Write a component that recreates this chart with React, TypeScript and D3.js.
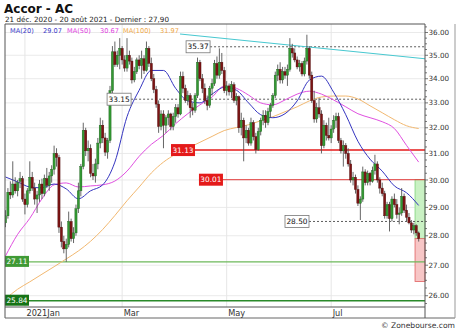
import React from 'react';
import * as d3 from 'd3';

const opens = [
  28.45, 28.70, 29.55, 29.45, 29.85, 29.60, 29.95, 30.05, 29.30, 29.10,
  29.60, 30.10, 29.70, 29.30, 29.45, 29.85, 29.50, 30.05, 29.80, 30.15,
  30.40, 31.00, 30.85, 28.30, 27.80, 27.55, 27.70, 28.50, 27.90, 28.10,
  28.95, 29.60, 30.50, 31.90, 31.10, 31.20, 30.25, 30.15, 30.60, 31.40,
  32.10, 31.60, 31.05, 31.50, 33.50, 35.15, 34.60, 35.00, 35.30, 34.80,
  34.45, 35.00, 34.75, 33.95, 34.30, 34.80, 34.55, 34.85, 34.35, 35.30,
  34.65, 34.00, 33.55, 32.95, 32.05, 32.55, 32.10, 32.40, 32.55, 32.05,
  32.45, 32.80, 32.55, 34.10, 33.60, 33.10, 33.30, 32.80, 32.70, 33.30,
  34.70, 34.00, 33.60, 33.10, 32.90, 33.60, 33.80, 34.65, 34.15, 34.70,
  34.35, 33.50, 33.70, 33.45, 33.75, 33.10, 33.25, 32.00, 32.30, 31.60,
  31.90, 31.40, 32.20, 31.65, 31.15, 31.85, 32.30, 32.50, 32.20, 32.65,
  32.90, 33.30, 34.15, 34.40, 33.95, 34.30, 34.15, 34.40, 35.30, 35.10,
  34.80, 34.50, 34.65, 34.20, 34.75, 35.30, 34.15, 33.10, 32.35, 32.80,
  32.55, 31.30, 32.10, 31.70, 31.60, 31.95, 32.30, 32.45, 31.50, 31.10,
  31.30, 31.00, 30.60, 30.00, 30.10, 29.65, 29.15, 29.30, 30.30, 29.90,
  30.25, 29.95, 30.35, 30.60, 30.00, 29.70, 29.50, 28.70, 29.10, 28.60,
  29.30, 29.10, 28.75, 28.80, 29.40, 28.90, 28.65, 28.45, 28.20, 28.35,
  28.10,
];
const highs = [
  28.90, 29.70, 29.95, 30.70, 30.10, 30.00, 30.30, 30.15, 29.50, 29.70,
  30.70, 30.30, 29.90, 29.60, 30.00, 30.05, 30.20, 30.45, 30.30, 30.55,
  31.30, 31.20, 30.95, 28.50, 28.00, 27.90, 28.85, 28.60, 28.30, 29.10,
  29.90, 30.60, 32.20, 32.00, 31.50, 31.35, 30.60, 30.80, 31.60, 32.40,
  32.30, 31.80, 31.60, 33.70, 35.40, 35.60, 35.20, 35.75, 35.40, 35.00,
  35.75, 35.20, 34.90, 34.50, 34.90, 35.00, 35.20, 35.00, 35.60, 35.40,
  34.90, 34.20, 33.70, 33.10, 32.70, 32.70, 32.50, 32.70, 32.60, 32.60,
  32.95, 32.95, 34.30, 34.30, 33.75, 33.50, 33.40, 33.00, 33.40, 34.90,
  34.80, 34.20, 33.80, 33.30, 33.70, 34.00, 34.80, 34.95, 35.30, 35.10,
  34.50, 33.90, 33.80, 33.90, 33.85, 33.40, 33.30, 32.60, 32.40, 32.10,
  32.00, 32.40, 32.30, 31.80, 32.00, 32.40, 32.70, 32.70, 32.80, 33.00,
  33.40, 34.30, 34.60, 34.70, 34.50, 34.50, 34.60, 35.75, 35.50, 35.30,
  34.95, 34.80, 34.75, 34.90, 35.90, 35.40, 34.30, 33.50, 33.00, 33.20,
  32.70, 32.30, 32.20, 32.40, 32.10, 32.50, 32.60, 32.60, 31.60, 31.50,
  31.40, 31.20, 30.75, 30.30, 30.20, 29.80, 29.40, 30.50, 30.40, 30.35,
  30.30, 30.50, 30.95, 30.70, 30.10, 29.90, 29.60, 29.20, 29.20, 29.40,
  29.50, 29.30, 29.00, 29.70, 29.50, 29.10, 28.80, 28.55, 28.45, 28.40,
  28.15,
];
const lows = [
  28.30, 28.60, 29.30, 29.35, 29.50, 29.40, 29.70, 29.20, 28.75, 29.00,
  29.50, 29.60, 29.10, 28.80, 29.20, 29.30, 29.40, 29.70, 29.60, 29.90,
  30.20, 30.50, 28.10, 27.60, 27.40, 27.11, 27.60, 27.80, 27.75, 28.00,
  28.80, 29.40, 30.40, 30.90, 30.70, 30.10, 30.00, 29.90, 30.40, 31.20,
  31.40, 30.90, 30.80, 31.40, 33.40, 34.50, 34.50, 34.40, 34.60, 34.30,
  34.30, 34.60, 33.80, 33.85, 34.20, 34.40, 34.00, 34.20, 34.30, 34.50,
  33.90, 33.40, 32.80, 31.80, 31.90, 31.20, 31.80, 32.10, 31.90, 31.90,
  32.20, 32.40, 32.50, 33.40, 33.00, 32.90, 32.40, 32.50, 32.60, 33.20,
  33.90, 33.40, 32.95, 32.70, 32.80, 33.30, 33.70, 34.00, 34.00, 34.20,
  33.40, 33.30, 33.30, 33.20, 33.00, 32.90, 31.80, 31.70, 30.70, 31.40,
  31.30, 31.30, 31.50, 31.00, 31.10, 31.70, 32.10, 32.00, 32.10, 32.40,
  32.80, 33.20, 33.90, 33.80, 33.80, 34.00, 33.70, 34.30, 34.90, 34.70,
  34.40, 34.30, 34.10, 34.10, 34.60, 34.00, 33.00, 32.20, 32.20, 32.40,
  31.00, 31.20, 31.50, 31.50, 31.40, 31.80, 32.00, 31.40, 31.00, 30.50,
  30.80, 30.50, 29.90, 29.80, 29.50, 29.05, 28.55, 29.20, 29.80, 29.80,
  29.80, 29.90, 30.20, 29.90, 29.50, 29.40, 28.60, 28.60, 28.15, 28.50,
  29.00, 28.60, 28.40, 28.70, 28.80, 28.50, 28.40, 28.10, 28.05, 28.00,
  27.80,
];
const closes = [
  28.70, 29.55, 29.45, 29.85, 29.60, 29.90, 30.05, 29.30, 29.10, 29.60,
  30.10, 29.70, 29.30, 29.45, 29.85, 29.50, 30.05, 29.80, 30.15, 30.40,
  31.00, 30.85, 28.30, 27.80, 27.55, 27.70, 28.50, 27.90, 28.10, 28.95,
  29.60, 30.50, 31.90, 31.10, 31.20, 30.25, 30.15, 30.60, 31.40, 32.10,
  31.60, 31.05, 31.50, 33.50, 35.15, 34.60, 35.00, 35.30, 34.80, 34.45,
  35.00, 34.75, 33.95, 34.30, 34.80, 34.55, 34.85, 34.35, 35.30, 34.65,
  34.00, 33.55, 32.95, 32.05, 32.55, 32.10, 32.40, 32.55, 32.05, 32.45,
  32.80, 32.55, 34.10, 33.60, 33.10, 33.30, 32.80, 32.70, 33.30, 34.70,
  34.00, 33.60, 33.10, 32.90, 33.60, 33.80, 34.65, 34.15, 34.70, 34.35,
  33.50, 33.70, 33.45, 33.75, 33.10, 33.25, 32.00, 32.30, 31.60, 31.90,
  31.40, 32.20, 31.65, 31.15, 31.85, 32.30, 32.50, 32.20, 32.65, 32.90,
  33.30, 34.15, 34.40, 33.95, 34.30, 34.15, 34.40, 35.30, 35.10, 34.80,
  34.50, 34.65, 34.20, 34.75, 35.30, 34.15, 33.10, 32.35, 32.80, 32.55,
  31.30, 32.10, 31.70, 31.60, 31.95, 32.30, 32.45, 31.50, 31.10, 31.30,
  31.00, 30.60, 30.00, 30.10, 29.65, 29.15, 29.30, 30.30, 29.90, 30.25,
  29.95, 30.35, 30.60, 30.00, 29.70, 29.50, 28.70, 29.10, 28.60, 29.30,
  29.10, 28.75, 28.80, 29.40, 28.90, 28.65, 28.45, 28.20, 28.35, 28.10,
  27.90,
];

// Moving averages read every 5 sessions (index 0, 5, ..., 170)
const maStep = 5;
const ma20 = [30.11, 29.93, 29.74, 29.71, 29.85, 29.67, 29.31, 29.60, 29.82, 30.67,
  32.44, 33.52, 34.35, 34.35, 33.60, 33.08, 33.00, 33.36, 33.64, 33.52,
  33.00, 32.52, 32.40, 32.56, 33.08, 33.94, 34.11, 33.44, 32.52, 31.47,
  30.78, 30.33, 29.78, 29.53, 29.07];
const ma50 = [27.31, 28.05, 28.61, 29.31, 29.82, 29.89, 29.74, 29.78, 29.82, 29.96,
  30.33, 30.89, 31.35, 31.70, 32.16, 32.56, 32.92, 33.24, 33.69, 33.60,
  33.32, 33.00, 32.92, 33.12, 33.36, 33.48, 33.36, 33.12, 32.84, 32.56,
  32.40, 32.24, 31.97, 31.31, 30.67];
const ma100 = [25.90, 26.21, 26.45, 26.70, 26.95, 27.21, 27.48, 27.81, 28.22, 28.71,
  29.24, 29.74, 30.26, 30.67, 30.97, 31.20, 31.43, 31.66, 31.89, 32.01,
  32.12, 32.28, 32.44, 32.64, 32.84, 33.08, 33.24, 33.28, 33.28, 33.16,
  32.88, 32.60, 32.32, 32.08, 31.97];

const maLegend = [
  { label: 'MA(20)', value: '29.07', color: '#3a3ac8' },
  { label: 'MA(50)', value: '30.67', color: '#e040e0' },
  { label: 'MA(100)', value: '31.97', color: '#f0a848' },
];

const yTicks = [26, 27, 28, 29, 30, 31, 32, 33, 34, 35, 36];
const yMinorTicks = [25.75, 26.25, 26.5, 26.75, 27.25, 27.5, 27.75, 28.25, 28.5, 28.75, 29.25, 29.5, 29.75,
  30.25, 30.5, 30.75, 31.25, 31.5, 31.75, 32.25, 32.5, 32.75, 33.25, 33.5, 33.75, 34.25, 34.5, 34.75,
  35.25, 35.5, 35.75, 36.25];
const monthTicks = [
  { i: 8, label: '2021Jan' },
  { i: 48, label: 'Mar' },
  { i: 91, label: 'May' },
  { i: 134, label: 'Jul' },
];

// horizontal levels: value, index where its label starts
const dottedLevels = [
  { v: 35.37, i: 74.3 },
  { v: 33.15, i: 41.8 },
  { v: 28.5, i: 115.0 },
];
const redLevels = [
  { v: 31.13, i: 68.1, w: 1.6, color: '#e41a1a' },
  { v: 30.01, i: 79.6, w: 1, color: '#e23a3a' },
];
const greenLevels = [
  { v: 27.11, color: '#6cb85a', box: '#3f9a35', w: 1.3 },
  { v: 25.84, color: '#2a8a2a', box: '#167316', w: 1.6 },
];
const trendline = [
  { i: 71.8, v: 35.93 },
  { i: 172.6, v: 34.85 },
];
const upZone = { from: 27.9, to: 30.01, i: 168.5 };
const downZone = { from: 27.9, to: 26.46, i: 168.5 };

const SANS = '"DejaVu Sans", Verdana, sans-serif';

export default function App() {
  const W = 460, H = 331;
  const plotL = 5, plotR = 425, plotT = 24, plotB = 307, bandB = 318, outerR = 455;
  const x = d3.scaleLinear().domain([-0.2, 172.6]).range([plotL, plotR]);
  const y = d3.scaleLog().domain([25.64, 36.38]).range([plotB, plotT]);

  const maLine = (arr: number[]) =>
    d3.line<number>()
      .x((_, k) => x(k * maStep))
      .y((v) => y(v))
      .curve(d3.curveMonotoneX)(arr) || '';

  const fmt = d3.format('.2f');
  const bodyW = 2.2;

  return (
    <svg width={W} height={H} style={{ position: 'absolute', left: 0, top: 0, background: '#fff' }}
      fontFamily={SANS}>
      <defs>
        <clipPath id="plot">
          <rect x={plotL} y={plotT} width={plotR - plotL} height={plotB - plotT} />
        </clipPath>
      </defs>
      <rect x={0} y={0} width={W} height={H} fill="#fff" />

      {/* title */}
      <text x={4} y={12.5} fontSize={12} fontWeight="bold" fill="#111">Accor - AC</text>
      <text x={5} y={22.3} fontSize={7.2} fill="#222">21 déc. 2020 - 20 août 2021 - Dernier : 27,90</text>

      {/* grid */}
      <g clipPath="url(#plot)">
        {yTicks.map((t) => (
          <line key={'g' + t} x1={plotL} x2={plotR} y1={y(t)} y2={y(t)} stroke="#eaeaea" strokeWidth={1} />
        ))}
        {monthTicks.map((m) => (
          <line key={'v' + m.i} x1={x(m.i)} x2={x(m.i)} y1={plotT} y2={plotB} stroke="#e6e6e6" strokeWidth={1} />
        ))}
      </g>

      {/* zones */}
      <rect x={x(upZone.i)} y={y(upZone.to)} width={plotR - x(upZone.i)} height={y(upZone.from) - y(upZone.to)}
        fill="#c9f1c3" stroke="#7fd37a" strokeWidth={0.8} />
      <rect x={x(downZone.i)} y={y(downZone.from)} width={plotR - x(downZone.i)} height={y(downZone.to) - y(downZone.from)}
        fill="#f7c6c6" stroke="#e06060" strokeWidth={0.8} />

      <g clipPath="url(#plot)">
        {greenLevels.map((l) => (
          <line key={'gl' + l.v} x1={plotL} x2={plotR} y1={y(l.v)} y2={y(l.v)} stroke={l.color} strokeWidth={l.w} />
        ))}
        {redLevels.map((l) => (
          <line key={'rl' + l.v} x1={x(l.i)} x2={plotR} y1={y(l.v)} y2={y(l.v)} stroke={l.color} strokeWidth={l.w} />
        ))}
        {dottedLevels.map((l) => (
          <line key={'dl' + l.v} x1={x(l.i)} x2={plotR} y1={y(l.v)} y2={y(l.v)} stroke="#333" strokeWidth={0.8}
            strokeDasharray="2,2" />
        ))}
        <line x1={x(trendline[0].i)} y1={y(trendline[0].v)} x2={x(trendline[1].i)} y2={y(trendline[1].v)}
          stroke="#48c8d0" strokeWidth={1.1} />

        <path d={maLine(ma100)} fill="none" stroke="#f2b870" strokeWidth={1} />
        <path d={maLine(ma50)} fill="none" stroke="#e050e0" strokeWidth={1} />
        <path d={maLine(ma20)} fill="none" stroke="#3535c0" strokeWidth={1} />

        {closes.map((c, i) => {
          const o = opens[i];
          const up = c >= o;
          const cx = x(i);
          const top = y(Math.max(o, c));
          const bot = y(Math.min(o, c));
          return (
            <g key={'c' + i}>
              <line x1={cx} x2={cx} y1={y(highs[i])} y2={y(lows[i])} stroke="#555" strokeWidth={0.9} />
              <rect x={cx - bodyW / 2} y={top} width={bodyW} height={Math.max(0.8, bot - top)}
                fill={up ? '#339933' : '#7c1414'} stroke={up ? '#1d5e1d' : '#4a0a0a'} strokeWidth={0.4} />
            </g>
          );
        })}
      </g>

      {dottedLevels.map((l) => (
        <g key={'dlab' + l.v}>
          <rect x={x(l.i)} y={y(l.v) - 6} width={24} height={12} fill="#fff" stroke="#777" strokeWidth={0.8} />
          <text x={x(l.i) + 12} y={y(l.v) + 2.6} fontSize={7.4} textAnchor="middle" fill="#111">{fmt(l.v)}</text>
        </g>
      ))}
      {redLevels.map((l) => (
        <g key={'rlab' + l.v}>
          <rect x={x(l.i)} y={y(l.v) - 6} width={24} height={12} fill="#e41a1a" />
          <text x={x(l.i) + 12} y={y(l.v) + 2.6} fontSize={7.4} textAnchor="middle" fill="#fff">{fmt(l.v)}</text>
        </g>
      ))}
      {greenLevels.map((l) => (
        <g key={'glab' + l.v}>
          <rect x={plotL} y={y(l.v) - 6} width={24} height={11} fill={l.box} />
          <text x={plotL + 12} y={y(l.v) + 2.2} fontSize={7.4} textAnchor="middle" fill="#fff">{fmt(l.v)}</text>
        </g>
      ))}

      <g fontSize={6.6}>
        {maLegend.map((m, k) => {
          const xs = [10, 67, 123][k];
          const xv = [43, 100, 160][k];
          return (
            <g key={m.label}>
              <text x={xs} y={32.5} fill={m.color}>{m.label}</text>
              <text x={xv} y={32.5} fill={m.color}>{m.value}</text>
            </g>
          );
        })}
      </g>

      <line x1={plotL} x2={plotR} y1={plotT} y2={plotT} stroke="#555" strokeWidth={1} />
      <line x1={plotL} x2={plotL} y1={plotT} y2={bandB} stroke="#555" strokeWidth={1} />
      <line x1={plotL} x2={plotR} y1={plotB} y2={plotB} stroke="#555" strokeWidth={1} />
      <line x1={plotL} x2={outerR} y1={bandB} y2={bandB} stroke="#666" strokeWidth={1} />
      <line x1={plotR} x2={plotR} y1={plotT} y2={bandB} stroke="#555" strokeWidth={1} />
      <line x1={outerR} x2={outerR} y1={plotT} y2={bandB} stroke="#999" strokeWidth={1} />

      {yMinorTicks.map((t) => (
        <line key={'mt' + t} x1={plotR} x2={plotR + 2} y1={y(t)} y2={y(t)} stroke="#555" strokeWidth={0.8} />
      ))}
      {yTicks.map((t) => (
        <g key={'yt' + t}>
          <line x1={plotR} x2={plotR + 3} y1={y(t)} y2={y(t)} stroke="#555" strokeWidth={0.8} />
          <text x={428.5} y={y(t) + 2.6} fontSize={7.2} fill="#333">{fmt(t)}</text>
        </g>
      ))}

      {monthTicks.map((m) => (
        <text key={'xl' + m.i} x={x(m.i) + 1.5} y={316} fontSize={8.2} fill="#333">{m.label}</text>
      ))}

      <text x={455} y={327.5} fontSize={7.6} textAnchor="end" fill="#333">© Zonebourse.com</text>
    </svg>
  );
}
